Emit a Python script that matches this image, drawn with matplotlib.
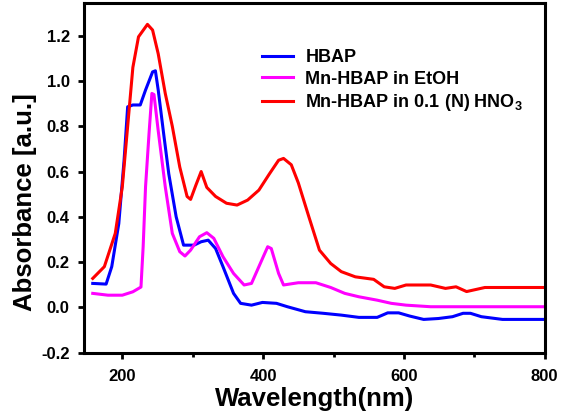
import matplotlib
matplotlib.use("Agg")
from matplotlib import pyplot as plt
from matplotlib.ticker import MultipleLocator

# HBAP (blue)
hbap_x = [158, 177, 185, 195, 202.5, 207.6, 215, 225.5, 233, 243, 247, 251, 258.6, 266,
          276.5, 287, 302, 312, 322, 332.5, 343, 358, 368, 383.5, 399, 419, 434.5, 460,
          485.5, 511, 536, 562, 577, 592.5, 608, 628, 649, 669, 684, 694.5, 710, 740, 800]
hbap_y = [0.106, 0.103, 0.18, 0.37, 0.65, 0.886, 0.894, 0.894, 0.96, 1.04, 1.045, 0.96,
          0.77, 0.59, 0.40, 0.275, 0.275, 0.29, 0.297, 0.26, 0.18, 0.062, 0.018, 0.01,
          0.022, 0.018, 0.003, -0.019, -0.026, -0.034, -0.044, -0.044, -0.024, -0.024,
          -0.038, -0.053, -0.049, -0.041, -0.026, -0.026, -0.041, -0.053, -0.053]

# Mn-HBAP in EtOH (magenta)
etoh_x = [158, 179.6, 200, 215, 226.5, 229.6, 233, 238, 242, 245, 251, 261, 271, 281.6,
          289, 297, 309.6, 320, 330, 343, 358, 373, 383.5, 394, 406.5, 411.6, 422, 429,
          450, 475, 496, 516, 536, 562, 582, 603, 638, 800]
etoh_y = [0.062, 0.054, 0.054, 0.069, 0.09, 0.268, 0.533, 0.77, 0.945, 0.94, 0.78, 0.533,
          0.327, 0.246, 0.227, 0.253, 0.312, 0.33, 0.305, 0.224, 0.15, 0.099, 0.106, 0.18,
          0.268, 0.26, 0.15, 0.099, 0.109, 0.109, 0.088, 0.062, 0.047, 0.032, 0.018,
          0.01, 0.003, 0.003]

# Mn-HBAP in 0.1 (N) HNO3 (red)
hno3_x = [158, 174.5, 190, 200, 207.6, 215, 223, 235.7, 243, 251, 261, 271, 281.6, 292,
          297, 304.5, 312, 320, 332.5, 348, 363, 378, 394, 409, 422, 429, 440, 450, 465,
          480, 496, 511, 531, 557, 572, 587, 603, 638, 659, 674, 689, 715, 800]
hno3_y = [0.128, 0.18, 0.327, 0.533, 0.80, 1.06, 1.195, 1.25, 1.225, 1.12, 0.945, 0.80,
          0.62, 0.49, 0.477, 0.54, 0.60, 0.53, 0.49, 0.46, 0.452, 0.474, 0.518, 0.59,
          0.65, 0.658, 0.63, 0.55, 0.40, 0.253, 0.194, 0.158, 0.135, 0.124, 0.091, 0.084,
          0.099, 0.099, 0.084, 0.091, 0.07, 0.088, 0.088]

plt.rcParams["font.family"] = ["Liberation Sans", "DejaVu Sans"]
plt.rcParams["font.weight"] = "bold"
plt.rcParams["mathtext.fontset"] = "custom"
plt.rcParams["mathtext.rm"] = "Liberation Sans:bold"
plt.rcParams["mathtext.bf"] = "Liberation Sans:bold"

fig = plt.figure(figsize=(5.61, 4.13), dpi=100)
ax = fig.add_axes([0.149, 0.146, 0.822, 0.846])

lw = 2.2
ax.plot(hbap_x, hbap_y, color="#0000ff", lw=lw, label="HBAP")
ax.plot(etoh_x, etoh_y, color="#ff00ff", lw=lw, label="Mn-HBAP in EtOH")
ax.plot(hno3_x, hno3_y, color="#ff0000", lw=lw,
        label=r"Mn-HBAP in 0.1 (N) HNO$_{\mathbf{3}}$")

ax.set_xlim(145, 800)
ax.set_ylim(-0.2, 1.343)
ax.xaxis.set_major_locator(MultipleLocator(200))
ax.xaxis.set_minor_locator(MultipleLocator(100))
ax.yaxis.set_major_locator(MultipleLocator(0.2))
ax.yaxis.set_major_formatter(plt.FuncFormatter(lambda v, p: f"{v:.1f}"))

for spine in ax.spines.values():
    spine.set_linewidth(2.2)
ax.tick_params(which="major", direction="out", length=4, width=2, labelsize=12)
ax.tick_params(which="minor", direction="out", length=3, width=2)
ax.tick_params(axis="x", which="major", pad=8)
ax.tick_params(axis="y", which="major", pad=6)

ax.set_xlabel("Wavelength(nm)", fontsize=18.5, fontweight="bold", labelpad=2)
ax.set_ylabel("Absorbance [a.u.]", fontsize=18.5, fontweight="bold")
ax.yaxis.set_label_coords(-0.102, 0.43)

ax.legend(loc="upper left", bbox_to_anchor=(262 / 561, 1 - 49 / 413),
          bbox_transform=fig.transFigure, frameon=False, fontsize=13,
          borderpad=0, borderaxespad=0, handlelength=1.7, handletextpad=0.7,
          labelspacing=0.25)

fig.savefig("out.png", dpi=100)
